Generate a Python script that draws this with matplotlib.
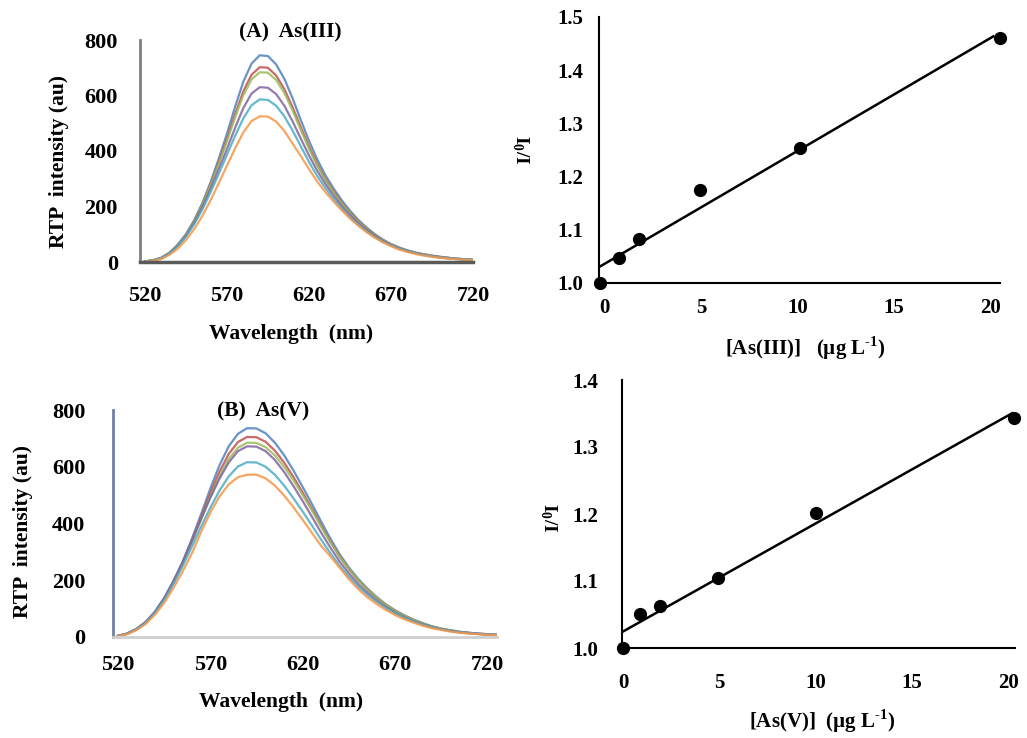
import numpy as np
import matplotlib
matplotlib.use("Agg")
import matplotlib.pyplot as plt

plt.rcParams['font.family'] = ['Liberation Serif', 'DejaVu Serif']
plt.rcParams['font.weight'] = 'bold'
plt.rcParams['mathtext.fontset'] = 'custom'
plt.rcParams['mathtext.rm'] = 'Liberation Serif:bold'
plt.rcParams['mathtext.bf'] = 'Liberation Serif:bold'

# ---------------- data ----------------
wl_a = np.arange(520, 721, 5)   # panel A wavelengths (nm)
wl_b = np.arange(520, 726, 5)   # panel B wavelengths (nm)

a_blue = [2, 6, 15, 33, 62, 100, 150, 212, 287, 372, 462, 560, 650, 715, 745, 742, 712, 660, 590, 512,
          437, 370, 313, 265, 222, 185, 152, 125, 101, 81, 65, 52, 42, 34, 28, 23, 19, 15, 12, 10, 8]
a_red = [2, 6, 15, 33, 61, 98, 147, 207, 279, 359, 443, 533, 615, 675, 702, 700, 672, 623, 558, 486,
         416, 353, 299, 254, 213, 178, 147, 121, 98, 79, 63, 51, 41, 33, 27, 22, 18, 15, 12, 10, 8]
a_green = [2, 6, 15, 33, 61, 97, 146, 205, 276, 354, 435, 522, 601, 658, 684, 682, 656, 609, 546, 476,
           408, 347, 295, 250, 210, 176, 145, 120, 97, 78, 63, 50, 41, 33, 27, 22, 18, 15, 12, 10, 8]
a_purple = [2, 6, 14, 32, 59, 94, 141, 197, 263, 334, 407, 484, 555, 607, 630, 628, 605, 563, 507, 445,
            384, 329, 281, 239, 201, 169, 140, 116, 94, 76, 61, 49, 40, 32, 26, 21, 17, 14, 11, 9, 7]
a_cyan = [2, 6, 14, 31, 57, 91, 136, 189, 251, 318, 386, 455, 518, 565, 586, 584, 563, 525, 474, 417,
          361, 310, 266, 227, 192, 161, 134, 111, 90, 73, 59, 48, 39, 31, 25, 20, 16, 13, 11, 9, 7]
a_orange = [1, 4, 11, 26, 48, 79, 118, 166, 222, 284, 347, 410, 467, 508, 525, 524, 506, 472, 427, 382,
            335, 290, 252, 218, 186, 157, 131, 108, 88, 71, 57, 45, 36, 29, 23, 19, 15, 12, 10, 8, 6]

b_blue = [4, 12, 28, 52, 88, 136, 196, 264, 345, 432, 522, 605, 672, 716, 736, 735, 718, 685, 641, 588,
          530, 470, 408, 348, 293, 246, 206, 172, 142, 116, 95, 77, 62, 49, 38, 30, 24, 19, 15, 12, 10, 8]
b_red = [4, 12, 28, 52, 88, 135, 194, 261, 339, 422, 506, 582, 645, 687, 705, 704, 688, 657, 615, 565,
         510, 453, 394, 337, 285, 240, 201, 168, 139, 114, 93, 75, 60, 48, 37, 29, 23, 18, 15, 12, 10, 8]
b_green = [4, 12, 28, 52, 87, 134, 192, 258, 334, 414, 494, 566, 627, 667, 685, 684, 669, 640, 600, 553,
           501, 447, 390, 335, 284, 240, 201, 168, 139, 114, 93, 75, 60, 48, 37, 29, 23, 18, 14, 11, 9, 7]
b_purple = [4, 12, 28, 53, 89, 137, 196, 263, 338, 415, 490, 558, 615, 655, 672, 671, 655, 624, 582, 533,
            480, 425, 369, 316, 267, 225, 188, 157, 130, 107, 87, 70, 56, 45, 35, 27, 22, 17, 14, 11, 9, 7]
b_cyan = [4, 11, 27, 50, 85, 130, 186, 249, 318, 388, 455, 516, 566, 601, 616, 615, 600, 572, 534, 490,
          443, 394, 344, 296, 252, 213, 179, 150, 125, 103, 84, 68, 55, 44, 34, 27, 21, 17, 13, 11, 9, 7]
b_orange = [3, 10, 24, 46, 78, 120, 172, 230, 294, 370, 438, 495, 538, 563, 572, 572, 559, 534, 499, 458,
            414, 368, 322, 285, 245, 205, 170, 141, 117, 96, 78, 63, 51, 40, 31, 25, 19, 15, 12, 10, 8, 6]

# calibration data (I0/I vs concentration)
conc_iii = [-0.25, 0.73, 1.77, 4.94, 10.1, 20.5]
ratio_iii = [1.0, 1.047, 1.083, 1.175, 1.254, 1.46]
conc_v = [0.0, 0.88, 1.92, 4.94, 10.0, 20.3]
ratio_v = [1.0, 1.050, 1.062, 1.104, 1.202, 1.343]

wl_ticks = [520, 570, 620, 670, 720]
int_ticks = [0, 200, 400, 600, 800]
conc_ticks = [0, 5, 10, 15, 20]
ratio_ticks_iii = [1.0, 1.1, 1.2, 1.3, 1.4, 1.5]
ratio_ticks_v = [1.0, 1.1, 1.2, 1.3, 1.4]

colors = ['#4F81BD', '#C0504D', '#9BBB59', '#8064A2', '#4BACC6', '#F79646']

# ---------------- figure ----------------
W, H = 1027, 738
fig = plt.figure(figsize=(W / 100, H / 100), dpi=100)


def ax_px(left, top, right, bottom):
    return fig.add_axes([left / W, 1 - bottom / H, (right - left) / W, (bottom - top) / H])


def ftext(x, y, s, **kw):
    fig.text(x / W, 1 - y / H, s, ha='center', va='center', fontweight='bold', **kw)


def style(ax):
    for s in ('top', 'right'):
        ax.spines[s].set_visible(False)
    ax.tick_params(length=0)


# Panel A spectra
axA = ax_px(140, 40, 473, 262)
for ys, c in zip([a_blue, a_red, a_green, a_purple, a_cyan, a_orange], colors):
    axA.plot(wl_a, ys, color=c, lw=1.6, alpha=0.85)
axA.set_xlim(517, 720)
axA.set_ylim(0, 800)
axA.set_xticks(wl_ticks)
axA.set_yticks(int_ticks)
style(axA)
axA.spines['left'].set_color('#808080')
axA.spines['left'].set_linewidth(2)
axA.spines['bottom'].set_color('#5a5a5a')
axA.spines['bottom'].set_linewidth(2.5)
axA.tick_params(axis='x', pad=17, labelsize=16)
axA.tick_params(axis='y', pad=16, labelsize=16)
ftext(290, 32, '(A)  As(III)', fontsize=15.5)
ftext(291, 334, 'Wavelength  (nm)', fontsize=15.5)
ftext(59, 162, 'RTP  intensity (au)', fontsize=15.5, rotation=90)

# Panel B spectra
axB = ax_px(113, 410, 497, 637)
for ys, c in zip([b_blue, b_red, b_green, b_purple, b_cyan, b_orange], colors):
    axB.plot(wl_b, ys, color=c, lw=1.6, alpha=0.85)
axB.set_xlim(517.3, 725.4)
axB.set_ylim(0, 800)
axB.set_xticks(wl_ticks)
axB.set_yticks(int_ticks)
style(axB)
axB.spines['left'].set_color('#7080a8')
axB.spines['left'].set_linewidth(2)
axB.spines['bottom'].set_color('#cfcfcf')
axB.spines['bottom'].set_linewidth(2)
axB.tick_params(axis='x', pad=13, labelsize=16)
axB.tick_params(axis='y', pad=20, labelsize=16)
ftext(263, 411, '(B)  As(V)', fontsize=15.5)
ftext(281, 702, 'Wavelength  (nm)', fontsize=15.5)
ftext(23, 532, 'RTP  intensity (au)', fontsize=15.5, rotation=90)

# Calibration As(III)
axC = ax_px(599, 17, 1000, 283)
k1, b1 = np.polyfit(conc_iii, ratio_iii, 1)
xs1 = np.array([-0.3, 20.15])
axC.plot(xs1, k1 * xs1 + b1, color='black', lw=1.8)
axC.plot(conc_iii, ratio_iii, 'o', color='black', ms=8.5, clip_on=False, zorder=5)
axC.set_xlim(-0.3, 20.5)
axC.set_ylim(1.0, 1.5)
axC.set_xticks(conc_ticks)
axC.set_yticks(ratio_ticks_iii)
axC.set_yticklabels(['%.1f' % v for v in ratio_ticks_iii])
style(axC)
for s in ('left', 'bottom'):
    axC.spines[s].set_color('black')
    axC.spines[s].set_linewidth(1.5)
axC.tick_params(axis='x', pad=11, labelsize=15)
axC.tick_params(axis='y', pad=11.5, labelsize=15)
ftext(805, 348, '[As(III)]   (\u00b5g L$^{\\text{-1}}$)', fontsize=15)
ftext(520, 150, 'I$_0$/I', fontsize=14, rotation=-90)

# Calibration As(V)
axD = ax_px(622, 380, 1015, 648)
k2, b2 = np.polyfit(conc_v, ratio_v, 1)
xs2 = np.array([0.0, 20.2])
axD.plot(xs2, k2 * xs2 + b2, color='black', lw=1.8)
axD.plot(conc_v, ratio_v, 'o', color='black', ms=8.5, clip_on=False, zorder=5)
axD.set_xlim(-0.05, 20.35)
axD.set_ylim(1.0, 1.4)
axD.set_xticks(conc_ticks)
axD.set_yticks(ratio_ticks_v)
axD.set_yticklabels(['%.1f' % v for v in ratio_ticks_v])
style(axD)
for s in ('left', 'bottom'):
    axD.spines[s].set_color('black')
    axD.spines[s].set_linewidth(1.5)
axD.tick_params(axis='x', pad=18, labelsize=15)
axD.tick_params(axis='y', pad=17, labelsize=15)
ftext(822, 721, '[As(V)]  (\u00b5g L$^{\\text{-1}}$)', fontsize=15)
ftext(548, 518, 'I$_0$/I', fontsize=14, rotation=-90)

fig.savefig('out.png', dpi=100)
